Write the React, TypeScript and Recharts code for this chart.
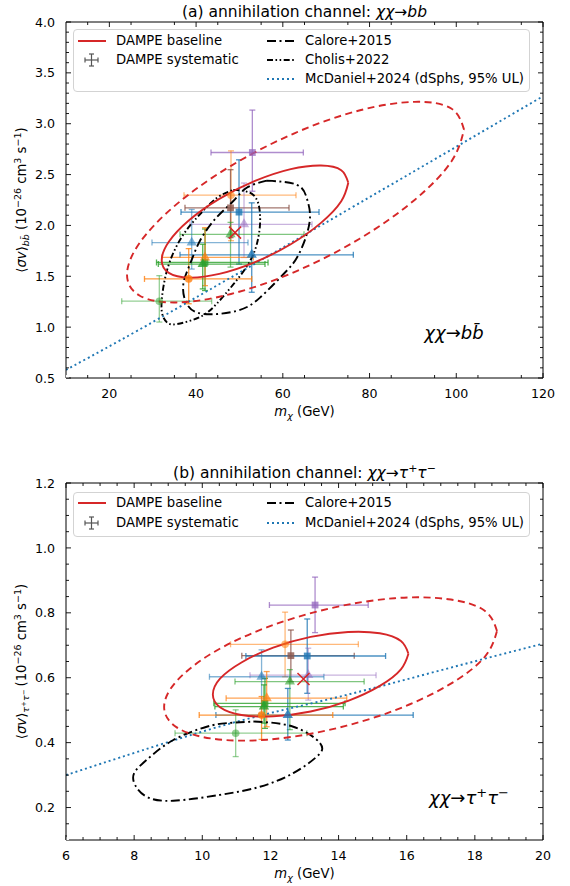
import React from 'react';
import { ComposedChart, Scatter, Line, XAxis, YAxis, ZAxis, ErrorBar, Legend } from 'recharts';

const FONT = '"DejaVu Sans", sans-serif';

// ---------- panel (a): chi chi -> b bbar ----------
const bbMass = [52.97, 48.05, 47.94, 49.9, 51.05, 47.94, 38.99, 52.83, 38.3, 42.06, 42.06, 41.53, 31.52];
const bbSigma = [2.717, 2.297, 2.173, 2.131, 2.011, 1.913, 1.831, 1.711, 1.474, 1.636, 1.685, 1.62, 1.255];
const bbMassRange = [
  [43.44, 64.73], [37.21, 63.04], [37.44, 61.43], [36.52, 68.35], [38.6, 66.73], [36.29, 64.89],
  [29.83, 51.97], [36.29, 76.26], [28.1, 52.83], [30.87, 56.59], [32.07, 53.2], [31.29, 55.89], [22.85, 43.6],
];
const bbSigmaRange = [
  [2.336, 3.134], [1.85, 2.733], [1.88, 2.548], [1.62, 2.645], [1.685, 2.417], [1.59, 2.03],
  [1.571, 2.157], [1.343, 2.222], [1.23, 1.772], [1.36, 1.965], [1.408, 1.978], [1.376, 1.815], [1.05, 1.506],
];
const bbBest = [48.98, 1.929];

// contours (mass GeV, <sigma v> 1e-26)
const bbBaseline = [
  [75.1, 2.419], [73.47, 2.543], [68.8, 2.589], [61.83, 2.553], [53.59, 2.437], [45.35, 2.261], [38.38, 2.051], [33.71, 1.839],
  [32.07, 1.657], [33.71, 1.533], [38.38, 1.487], [45.35, 1.523], [53.59, 1.639], [61.83, 1.815], [68.8, 2.025], [73.47, 2.237], [75.1, 2.419],
];
const bbBaselineWide = [
  [101.79, 2.942], [98.84, 3.149], [90.4, 3.215], [77.81, 3.132], [62.93, 2.911], [48.05, 2.586], [35.46, 2.207], [27.02, 1.831],
  [24.07, 1.516], [27.02, 1.309], [35.46, 1.243], [48.05, 1.326], [62.93, 1.547], [77.81, 1.872], [90.4, 2.251], [98.84, 2.627], [101.79, 2.942],
];
const bbCalore = [
  [56.29, 2.44], [63.21, 2.4], [65.51, 2.27], [66.27, 2.11], [65.51, 1.91], [63.21, 1.68], [60.12, 1.52], [54.74, 1.29], [49.37, 1.16],
  [41.66, 1.13], [37.84, 1.23], [37.05, 1.42], [38.6, 1.62], [40.9, 1.85], [44.76, 2.08], [48.58, 2.24], [51.67, 2.37], [56.29, 2.44],
];
const bbCholis = [
  [48.58, 2.35], [53.2, 2.3], [54.74, 2.11], [54.35, 1.88], [52.44, 1.65], [48.58, 1.42], [44.76, 1.23], [40.9, 1.1],
  [35.53, 1.03], [33.22, 1.05], [32.07, 1.16], [32.44, 1.39], [33.99, 1.65], [37.05, 1.91], [40.9, 2.11], [44.76, 2.27], [48.58, 2.35],
];
const bbMcDaniel = [[10, 0.58], [43.2, 1.37], [120, 3.27]];

const bbXMajor = [20, 40, 60, 80, 100, 120];
const bbXMinor = [15, 25, 35, 45, 55, 65, 75, 85, 95, 105, 115];
const bbYMajor = [0.5, 1.0, 1.5, 2.0, 2.5, 3.0, 3.5, 4.0];
const bbYMinor = [0.6, 0.7, 0.8, 0.9, 1.1, 1.2, 1.3, 1.4, 1.6, 1.7, 1.8, 1.9, 2.1, 2.2, 2.3, 2.4, 2.6, 2.7, 2.8, 2.9, 3.1, 3.2, 3.3, 3.4, 3.6, 3.7, 3.8, 3.9];

// ---------- panel (b): chi chi -> tau+ tau- ----------
const ttMass = [13.31, 12.43, 12.6, 13.08, 13.11, 12.57, 11.74, 12.51, 11.74, 11.84, 11.89, 11.81, 10.98];
const ttSigma = [0.824, 0.703, 0.668, 0.667, 0.608, 0.588, 0.603, 0.485, 0.485, 0.521, 0.537, 0.511, 0.429];
const ttMassRange = [
  [11.97, 14.87], [10.83, 14.58], [11.16, 14.46], [11.28, 15.38], [11.4, 15.1], [10.96, 14.75],
  [10.21, 13.57], [10.4, 16.19], [9.91, 13.83], [10.34, 14.19], [10.7, 14.24], [10.37, 14.14], [9.2, 13.07],
];
const ttSigmaRange = [
  [0.739, 0.91], [0.603, 0.802], [0.588, 0.747], [0.552, 0.781], [0.531, 0.691], [0.44, 0.625],
  [0.49, 0.686], [0.408, 0.567], [0.41, 0.542], [0.444, 0.598], [0.449, 0.619], [0.46, 0.578], [0.357, 0.501],
];
const ttBest = [12.97, 0.596];

const ttBaseline = [
  [16.05, 0.674], [15.83, 0.713], [15.21, 0.737], [14.28, 0.741], [13.18, 0.726], [12.08, 0.693], [11.15, 0.647], [10.52, 0.597],
  [10.31, 0.548], [10.52, 0.509], [11.15, 0.485], [12.08, 0.481], [13.18, 0.496], [14.28, 0.529], [15.21, 0.575], [15.83, 0.626], [16.05, 0.674],
];
const ttBaselineWide = [
  [18.65, 0.744], [18.28, 0.807], [17.22, 0.842], [15.64, 0.845], [13.76, 0.814], [11.89, 0.755], [10.31, 0.677], [9.25, 0.59],
  [8.88, 0.51], [9.25, 0.447], [10.31, 0.412], [11.89, 0.409], [13.76, 0.44], [15.64, 0.499], [17.22, 0.577], [18.28, 0.663], [18.65, 0.744],
];
const ttCalore = [
  [11.5, 0.465], [12.67, 0.449], [13.46, 0.398], [13.36, 0.357], [12.67, 0.306], [11.69, 0.264], [10.52, 0.239], [9.15, 0.221],
  [8.37, 0.233], [8.03, 0.269], [8.0, 0.306], [8.37, 0.347], [9.15, 0.408], [10.13, 0.449], [10.72, 0.46], [11.5, 0.465],
];
const ttMcDaniel = [[6, 0.3], [8.2, 0.375], [11.1, 0.467], [14.04, 0.542], [17, 0.623], [20, 0.705]];

const ttXMajor = [6, 8, 10, 12, 14, 16, 18, 20];
const ttXMinor = [6.5, 7, 7.5, 8.5, 9, 9.5, 10.5, 11, 11.5, 12.5, 13, 13.5, 14.5, 15, 15.5, 16.5, 17, 17.5, 18.5, 19, 19.5];
const ttYMajor = [0.2, 0.4, 0.6, 0.8, 1.0, 1.2];
const ttYMinor = [0.15, 0.25, 0.3, 0.35, 0.45, 0.5, 0.55, 0.65, 0.7, 0.75, 0.85, 0.9, 0.95, 1.05, 1.1, 1.15];

// marker styles, one per DAMPE systematic variation
const markerColors = ['#9467bd', '#ff7f0e', '#8c564b', '#1f77b4', '#9467bd', '#2ca02c', '#1f77b4', '#1f77b4', '#ff7f0e', '#2ca02c', '#ff7f0e', '#2ca02c', '#2ca02c'];
const markerAlphas = [0.75, 0.55, 0.8, 0.8, 0.5, 0.6, 0.55, 0.8, 0.8, 0.8, 0.7, 0.8, 0.5];
const markerShapes = ['square', 'circle', 'square', 'square', 'triangle', 'triangle', 'triangle', 'triangle', 'circle', 'square', 'triangle', 'triangle', 'circle'];

const legendNamesA = ['DAMPE baseline', 'DAMPE systematic', 'Calore+2015', 'Cholis+2022', 'McDaniel+2024 (dSphs, 95% UL)'];
const legendKindsA = ['baseline', 'sys', 'calore', 'cholis', 'mcd'];
const legendNamesB = ['DAMPE baseline', 'DAMPE systematic', 'Calore+2015', 'McDaniel+2024 (dSphs, 95% UL)'];
const legendKindsB = ['baseline', 'sys', 'calore', 'mcd'];

const RED = '#d62728';
const BLUE = '#1f77b4';

function rgba(hex: string, a: number) {
  const n = parseInt(hex.slice(1), 16);
  return `rgba(${(n >> 16) & 255},${(n >> 8) & 255},${n & 255},${a})`;
}

const toXY = (arr: number[][]) => arr.map(([x, y]) => ({ x, y }));

const tickText = { fontFamily: FONT, fontSize: 12.6, fill: '#000' };

function tickBottom(majors: number[], fmt: (v: number) => string) {
  return (p: any) => {
    const major = majors.includes(p.payload.value);
    return (
      <g>
        <line x1={p.x} x2={p.x} y1={p.y} y2={p.y - (major ? 5 : 3)} stroke="#000" strokeWidth={0.9} />
        {major && (
          <text x={p.x} y={p.y + 20} textAnchor="middle" {...tickText}>{fmt(p.payload.value)}</text>
        )}
      </g>
    );
  };
}
function tickTop(majors: number[]) {
  return (p: any) => {
    const major = majors.includes(p.payload.value);
    return <line x1={p.x} x2={p.x} y1={p.y} y2={p.y + (major ? 5 : 3)} stroke="#000" strokeWidth={0.9} />;
  };
}
function tickLeft(majors: number[]) {
  return (p: any) => {
    const major = majors.includes(p.payload.value);
    return (
      <g>
        <line x1={p.x} x2={p.x + (major ? 5 : 3)} y1={p.y} y2={p.y} stroke="#000" strokeWidth={0.9} />
        {major && (
          <text x={p.x - 11} y={p.y + 4.6} textAnchor="end" {...tickText}>{p.payload.value.toFixed(1)}</text>
        )}
      </g>
    );
  };
}
function tickRight(majors: number[]) {
  return (p: any) => {
    const major = majors.includes(p.payload.value);
    return <line x1={p.x} x2={p.x - (major ? 5 : 3)} y1={p.y} y2={p.y} stroke="#000" strokeWidth={0.9} />;
  };
}

const xLabel = (p: any) => {
  const vb = p.viewBox;
  return (
    <text x={vb.x + vb.width / 2} y={vb.y + 38} textAnchor="middle" fontFamily={FONT} fontSize={13.2}>
      <tspan fontStyle="italic">m</tspan>
      <tspan fontSize={9.5} dy={3} fontStyle="italic">χ</tspan>
      <tspan dy={-3}>{' (GeV)'}</tspan>
    </text>
  );
};

function yLabel(sub: React.ReactNode) {
  return (p: any) => {
    const vb = p.viewBox;
    const cy = vb.y + vb.height / 2;
    return (
      <text transform={`translate(26, ${cy}) rotate(-90)`} textAnchor="middle" fontFamily={FONT} fontSize={13.2}>
        <tspan>⟨</tspan>
        <tspan fontStyle="italic">σv</tspan>
        <tspan>⟩</tspan>
        <tspan fontSize={9.5} dy={3} fontStyle="italic">{sub}</tspan>
        <tspan dy={-3}>{' (10'}</tspan>
        <tspan fontSize={9.5} dy={-5}>−26</tspan>
        <tspan dy={5}>{' cm'}</tspan>
        <tspan fontSize={9.5} dy={-5}>3</tspan>
        <tspan dy={5}>{' s'}</tspan>
        <tspan fontSize={9.5} dy={-5}>−1</tspan>
        <tspan dy={5}>)</tspan>
      </text>
    );
  };
}

function titleLabel(prefix: string, final: React.ReactNode) {
  return (p: any) => {
    const vb = p.viewBox;
    return (
      <text x={vb.x + vb.width / 2} y={vb.y - 4.5} textAnchor="middle" fontFamily={FONT} fontSize={15.5}>
        <tspan>{prefix}</tspan>
        <tspan fontStyle="italic">χχ</tspan>
        <tspan>→</tspan>
        {final}
      </text>
    );
  };
}

function cornerLabel(final: React.ReactNode, dx: number, dy: number) {
  return (p: any) => {
    const vb = p.viewBox;
    return (
      <text x={vb.x - dx} y={vb.y + vb.height - dy} textAnchor="middle" fontFamily={FONT} fontSize={18}>
        <tspan fontStyle="italic">χχ</tspan>
        <tspan>→</tspan>
        {final}
      </text>
    );
  };
}

function Handle({ kind }: { kind: string }) {
  let inner: React.ReactNode = null;
  if (kind === 'baseline') inner = <line x1={0} x2={28} y1={7} y2={7} stroke={RED} strokeWidth={2} />;
  if (kind === 'calore') inner = <line x1={0} x2={28} y1={7} y2={7} stroke="#000" strokeWidth={2} strokeDasharray="9 3.5 2 3.5" />;
  if (kind === 'cholis') inner = <line x1={0} x2={28} y1={7} y2={7} stroke="#000" strokeWidth={2} strokeDasharray="6 2.5 1.6 2.5 1.6 2.5" />;
  if (kind === 'mcd') inner = <line x1={0} x2={28} y1={7} y2={7} stroke={BLUE} strokeWidth={2} strokeDasharray="2 3" />;
  if (kind === 'sys')
    inner = (
      <g stroke="#555" strokeWidth={1.2}>
        <line x1={7} x2={20} y1={7} y2={7} />
        <line x1={13.5} x2={13.5} y1={1} y2={13} />
        <line x1={7} x2={7} y1={4.5} y2={9.5} />
        <line x1={20} x2={20} y1={4.5} y2={9.5} />
        <line x1={11} x2={16} y1={1} y2={1} />
        <line x1={11} x2={16} y1={13} y2={13} />
      </g>
    );
  return <svg width={28} height={14} style={{ position: 'absolute', left: 0, top: 0, overflow: 'visible' }}>{inner}</svg>;
}

function LegendBox({ names, kinds, height, rows }: { names: string[]; kinds: string[]; height: number; rows: number[] }) {
  return (
    <div
      style={{
        position: 'relative', width: 457, height, boxSizing: 'border-box', border: '1px solid #d3d3d3',
        borderRadius: 4, background: 'rgba(255,255,255,0.8)', fontFamily: FONT, fontSize: 13.2, color: '#000',
      }}
    >
      {names.map((n, i) => {
        const col = i < 2 ? 0 : 1;
        const row = i < 2 ? i : i - 2;
        const cy = rows[row];
        return (
          <React.Fragment key={n}>
            <div style={{ position: 'absolute', left: col ? 193 : 4, top: cy - 8, width: 28, height: 14 }}>
              <Handle kind={kinds[i]} />
            </div>
            <div style={{ position: 'absolute', left: col ? 231 : 42, top: cy - 9, lineHeight: '16px', whiteSpace: 'nowrap' }}>{n}</div>
          </React.Fragment>
        );
      })}
    </div>
  );
}

type PanelProps = {
  mass: number[]; sigma: number[]; massRange: number[][]; sigmaRange: number[][]; best: number[];
  curves: { data: number[][]; stroke: string; dash?: string }[];
  xDomain: [number, number]; yDomain: [number, number];
  xMajor: number[]; xMinor: number[]; yMajor: number[]; yMinor: number[];
  mTop: number; mBottom: number;
  title: any; ylab: any; corner: any; legend: React.ReactNode; legendTop: number; legendHeight: number;
};

function Panel(p: PanelProps) {
  const pts = p.mass.map((x, i) => ({
    x,
    y: p.sigma[i],
    ex: [x - p.massRange[i][0], p.massRange[i][1] - x],
    ey: [p.sigma[i] - p.sigmaRange[i][0], p.sigmaRange[i][1] - p.sigma[i]],
  }));
  const xTicks = [...p.xMajor, ...p.xMinor];
  const yTicks = [...p.yMajor, ...p.yMinor];
  return (
    <ComposedChart width={570} height={430} margin={{ top: p.mTop - 1, right: 26, bottom: p.mBottom, left: 0 }}>
      <XAxis xAxisId="b" dataKey="x" type="number" domain={p.xDomain} allowDataOverflow ticks={xTicks} interval={0}
        tickSize={0} tickMargin={0} tickLine={false} axisLine={{ stroke: '#000' }} height={40}
        tick={tickBottom(p.xMajor, (v) => String(v))} label={xLabel} />
      <XAxis xAxisId="t" orientation="top" dataKey="x" type="number" domain={p.xDomain} allowDataOverflow ticks={xTicks} interval={0}
        tickSize={0} tickMargin={0} tickLine={false} axisLine={{ stroke: '#000' }} height={1}
        tick={tickTop(p.xMajor)} label={p.title} />
      <YAxis yAxisId="l" dataKey="y" type="number" domain={p.yDomain} allowDataOverflow ticks={yTicks} interval={0}
        tickSize={0} tickMargin={0} tickLine={false} axisLine={{ stroke: '#000' }} width={66}
        tick={tickLeft(p.yMajor)} label={p.ylab} />
      <YAxis yAxisId="r" orientation="right" dataKey="y" type="number" domain={p.yDomain} allowDataOverflow ticks={yTicks} interval={0}
        tickSize={0} tickMargin={0} tickLine={false} axisLine={{ stroke: '#000' }} width={1}
        tick={tickRight(p.yMajor)} label={p.corner} />
      <ZAxis range={[46, 46]} />
      <Legend layout="horizontal" verticalAlign="middle" align="center"
        wrapperStyle={{ top: p.legendTop, left: 73, width: 457, height: p.legendHeight }}
        content={() => p.legend} />
      {pts.map((d, i) => (
        <Scatter key={'pt' + i} xAxisId="b" yAxisId="l" data={[d]} shape={markerShapes[i] as any}
          fill={rgba(markerColors[i], markerAlphas[i])} isAnimationActive={false}>
          <ErrorBar dataKey="ex" direction="x" width={3} stroke={rgba(markerColors[i], markerAlphas[i])} strokeWidth={1.3} isAnimationActive={false} />
          <ErrorBar dataKey="ey" direction="y" width={3} stroke={rgba(markerColors[i], markerAlphas[i])} strokeWidth={1.3} isAnimationActive={false} />
        </Scatter>
      ))}
      {p.curves.map((c, i) => (
        <Line key={'c' + i} xAxisId="b" yAxisId="l" data={toXY(c.data)} dataKey="y" type="natural" stroke={c.stroke}
          strokeWidth={1.9} strokeDasharray={c.dash} dot={false} activeDot={false} isAnimationActive={false} />
      ))}
      <Scatter xAxisId="b" yAxisId="l" data={[{ x: p.best[0], y: p.best[1] }]} isAnimationActive={false}
        shape={(s: any) => (
          <path d={`M${s.cx - 6},${s.cy - 6}L${s.cx + 6},${s.cy + 6}M${s.cx - 6},${s.cy + 6}L${s.cx + 6},${s.cy - 6}`}
            stroke={RED} strokeWidth={1.5} fill="none" />
        )} />
      {/* invisible anchors so the frame axes (top / right) are laid out */}
      <Line xAxisId="t" yAxisId="r" data={toXY([[p.xDomain[0], p.yDomain[0]]])} dataKey="y" stroke="none" dot={false}
        activeDot={false} isAnimationActive={false} legendType="none" />
    </ComposedChart>
  );
}

export default function App() {
  return (
    <div style={{ position: 'absolute', left: 0, top: 0, width: 570, height: 886, background: '#fff' }}>
      <div style={{ position: 'absolute', left: 0, top: 0 }}>
        <Panel
          mass={bbMass} sigma={bbSigma} massRange={bbMassRange} sigmaRange={bbSigmaRange} best={bbBest}
          curves={[
            { data: bbMcDaniel, stroke: BLUE, dash: '2 3' },
            { data: bbCholis, stroke: '#000', dash: '6 2.5 1.6 2.5 1.6 2.5' },
            { data: bbCalore, stroke: '#000', dash: '9 3.5 2 3.5' },
            { data: bbBaselineWide, stroke: RED, dash: '7 4.5' },
            { data: bbBaseline, stroke: RED },
          ]}
          xDomain={[10, 120]} yDomain={[0.5, 4.0]}
          xMajor={bbXMajor} xMinor={bbXMinor} yMajor={bbYMajor} yMinor={bbYMinor}
          mTop={22} mBottom={12}
          title={titleLabel('(a) annihilation channel: ', <tspan fontStyle="italic">bb</tspan>)}
          ylab={yLabel('bb̄')}
          corner={cornerLabel(<tspan fontStyle="italic">bb̄</tspan>, 89, 39)}
          legend={<LegendBox names={legendNamesA} kinds={legendKindsA} height={63} rows={[12, 31, 50]} />}
          legendTop={29} legendHeight={63}
        />
      </div>
      <div style={{ position: 'absolute', left: 0, top: 456 }}>
        <Panel
          mass={ttMass} sigma={ttSigma} massRange={ttMassRange} sigmaRange={ttSigmaRange} best={ttBest}
          curves={[
            { data: ttMcDaniel, stroke: BLUE, dash: '2 3' },
            { data: ttCalore, stroke: '#000', dash: '9 3.5 2 3.5' },
            { data: ttBaselineWide, stroke: RED, dash: '7 4.5' },
            { data: ttBaseline, stroke: RED },
          ]}
          xDomain={[6, 20]} yDomain={[0.1, 1.2]}
          xMajor={ttXMajor} xMinor={ttXMinor} yMajor={ttYMajor} yMinor={ttYMinor}
          mTop={27} mBottom={6}
          title={titleLabel('(b) annihilation channel: ', (
            <>
              <tspan fontStyle="italic">τ</tspan>
              <tspan fontSize={11} dy={-6}>+</tspan>
              <tspan fontStyle="italic" dy={6}>τ</tspan>
              <tspan fontSize={11} dy={-6}>−</tspan>
            </>
          ))}
          ylab={yLabel(<>τ<tspan fontSize={7} dy={-3}>+</tspan><tspan dy={3}>τ</tspan><tspan fontSize={7} dy={-3}>−</tspan><tspan dy={3}> </tspan></>)}
          corner={cornerLabel((
            <>
              <tspan fontStyle="italic">τ</tspan>
              <tspan fontSize={13} dy={-7}>+</tspan>
              <tspan fontStyle="italic" dy={7}>τ</tspan>
              <tspan fontSize={13} dy={-7}>−</tspan>
            </>
          ), 74, 36)}
          legend={<LegendBox names={legendNamesB} kinds={legendKindsB} height={45} rows={[11, 31]} />}
          legendTop={36} legendHeight={45}
        />
      </div>
    </div>
  );
}
